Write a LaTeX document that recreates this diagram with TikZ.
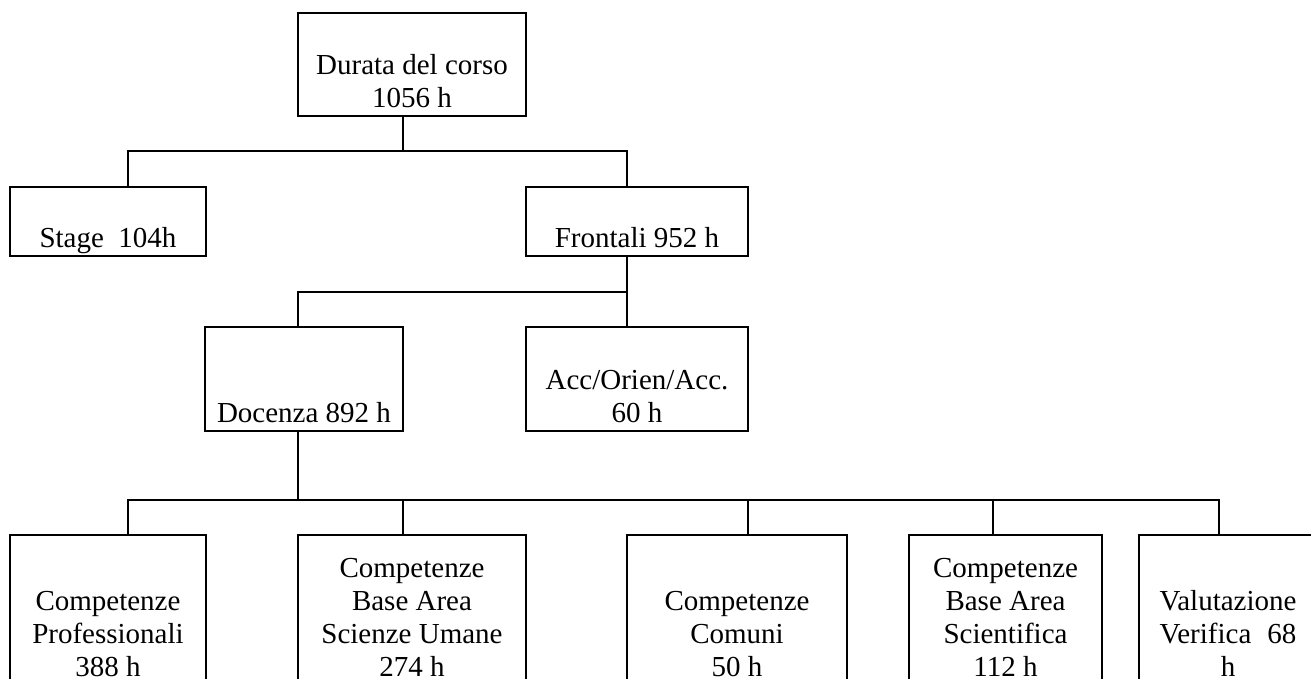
\documentclass[tikz,border=0pt]{standalone}
\usepackage{fontspec}
\setmainfont{Liberation Serif}
\usepackage{calc}
\usetikzlibrary{calc}

\begin{document}
\begin{tikzpicture}[x=0.5pt,y=-0.5pt,
	box/.style={draw, line width=0.75pt, inner sep=0pt, outer sep=0pt},
	lbl/.style={anchor=south, inner sep=0pt, align=center, font=\fontsize{14.5pt}{16.5pt}\selectfont},
	conn/.style={line width=0.75pt}]
			%%%%% START %%%%%
			\def\pxl{0.5pt}
			\def\yone{64.5}
			\def\ytwo{221.5}
			\def\ythree{379}
			\def\yfour{610}
			\def\hlow{150}
			\def\lift{4pt}
			
			\useasboundingbox (0,0) rectangle (1311,679);
			\clip (0,0) rectangle (1311,679);
			
			\node[box, minimum width=228*\pxl, minimum height=103*\pxl] (dur) at (412,\yone) {};
			\node[lbl] (durT) at ([yshift=\lift]dur.south) {Durata del corso\\1056 h};
			
			\node[box, minimum width=196*\pxl, minimum height=69*\pxl] (stage) at (108,\ytwo) {};
			\node[lbl, anchor=base] (stageT) at ([yshift=\lift]stage.south) {Stage\ \ 104h};
			
			\node[box, minimum width=222*\pxl, minimum height=69*\pxl] (front) at (637,\ytwo) {};
			\node[lbl] (frontT) at ([yshift=\lift]front.south) {Frontali 952 h};
			
			\node[box, minimum width=198*\pxl, minimum height=104*\pxl] (doc) at (304,\ythree) {};
			\node[lbl] (docT) at ([yshift=\lift]doc.south) {Docenza 892 h};
			
			\node[box, minimum width=222*\pxl, minimum height=104*\pxl] (acc) at (637,\ythree) {};
			\node[lbl] (accT) at ([yshift=\lift]acc.south) {Acc/Orien/Acc.\\60 h};
			
			\node[box, minimum width=196*\pxl, minimum height=\hlow*\pxl] (prof) at (108,\yfour) {};
			\node[lbl] (profT) at ([yshift=\lift]prof.south) {Competenze\\Professionali\\388 h};
			
			\node[box, minimum width=228*\pxl, minimum height=\hlow*\pxl] (hum) at (412,\yfour) {};
			\node[lbl] (humT) at ([yshift=\lift]hum.south) {Competenze\\Base Area\\Scienze Umane\\274 h};
			
			\node[box, minimum width=220*\pxl, minimum height=\hlow*\pxl] (com) at (737,\yfour) {};
			\node[lbl] (comT) at ([yshift=\lift]com.south) {Competenze\\Comuni\\50 h};
			
			\node[box, minimum width=193*\pxl, minimum height=\hlow*\pxl] (sci) at (1005.5,\yfour) {};
			\node[lbl] (sciT) at ([yshift=\lift]sci.south) {Competenze\\Base Area\\Scientifica\\112 h};
			
			\node[box, minimum width=178*\pxl, minimum height=\hlow*\pxl] (val) at (1228,\yfour) {};
			\node[lbl] (valT) at ([yshift=\lift]val.south) {Valutazione\\\makebox[\widthof{Valutazione}]{Verifica\hfill 68}\\h};
			
			% joints of the bars
			\coordinate (busA) at (403,151);
			\coordinate (busB) at (627,292);
			\coordinate (busC) at (298,500);
			
			\draw[conn] (dur.south -| busA) -- (busA);
			\draw[conn] ([xshift=20*\pxl]stage.north) |- (busA) -| ([xshift=-10*\pxl]front.north);
			
			\draw[conn] (front.south -| busB) -- (busB);
			\draw[conn] ([xshift=-6*\pxl]doc.north) |- (busB) -- ([xshift=-10*\pxl]acc.north);
			
			\draw[conn] (doc.south -| busC) -- (busC);
			\draw[conn] ([xshift=20*\pxl]prof.north) |- (busC) -| ([xshift=-9*\pxl]val.north);
			\foreach \n/\dx in {hum/-9,com/11,sci/-12.5}
				\draw[conn] ([xshift=\dx*\pxl]\n.north) -- ([xshift=\dx*\pxl]\n.north |- busC);
			%%%%% END %%%%%
\end{tikzpicture}
\end{document}
